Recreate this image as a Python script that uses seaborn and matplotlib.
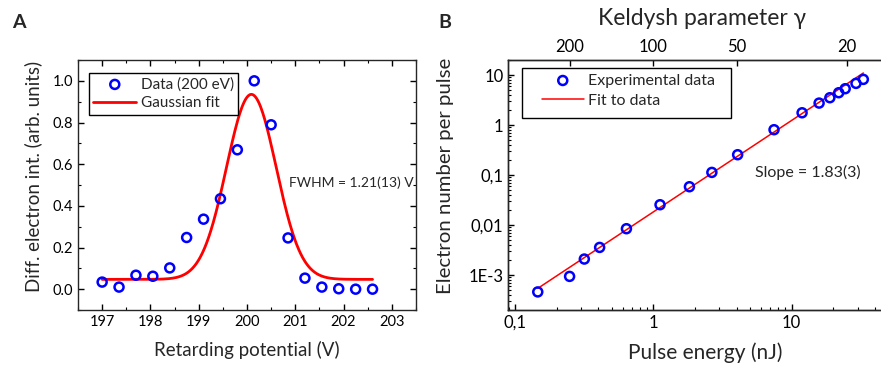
import numpy as np
import pandas as pd
import matplotlib.pyplot as plt
import matplotlib.patches as patches
import seaborn as sns
from matplotlib.ticker import FixedLocator, MultipleLocator, LogLocator, NullFormatter, FuncFormatter

# Panel A: retarding-potential scan
potential = [197.0, 197.35, 197.7, 198.05, 198.4, 198.75, 199.1, 199.45, 199.8,
             200.15, 200.5, 200.85, 201.2, 201.55, 201.9, 202.25, 202.6]
intensity = [0.034, 0.010, 0.067, 0.062, 0.102, 0.248, 0.336, 0.434, 0.669,
             1.0, 0.789, 0.246, 0.053, 0.010, 0.002, 0.0, 0.0]
fit_center = 200.09
fit_fwhm = 1.21
fit_amp = 0.888
fit_base = 0.047

# Panel B: yield vs pulse energy
pulse_energy = [0.146, 0.248, 0.317, 0.409, 0.639, 1.118, 1.824, 2.65, 4.07,
                7.46, 11.9, 15.8, 18.9, 21.9, 24.4, 29.2, 33.0]
electron_number = [4.6e-4, 9.4e-4, 2.09e-3, 3.57e-3, 8.45e-3, 0.0255, 0.0584, 0.113,
                   0.255, 0.807, 1.76, 2.75, 3.52, 4.43, 5.33, 6.81, 8.19]
fit_slope = 1.83
fit_prefactor = 0.0183
gamma_ticks = [200, 100, 50, 20]

sns.set_style('ticks')
plt.rcParams['font.family'] = ['Lato', 'DejaVu Sans']
plt.rcParams['axes.linewidth'] = 1.0
for ax_name in ['xtick', 'ytick']:
    plt.rcParams[ax_name + '.direction'] = 'in'
    plt.rcParams[ax_name + '.major.size'] = 4.5
    plt.rcParams[ax_name + '.minor.size'] = 2.5
    plt.rcParams[ax_name + '.major.width'] = 1.0
    plt.rcParams[ax_name + '.minor.width'] = 0.8
    plt.rcParams[ax_name + '.color'] = 'black'

blue = '#0000ff'
red = '#ff0000'

fig = plt.figure(figsize=(8.81, 3.65), dpi=100)
W, H = 881, 365
axA = fig.add_axes([78 / W, 55 / H, 338 / W, 250 / H])
axB = fig.add_axes([508.3 / W, 55 / H, 380 / W, 250 / H])

# ---- Panel A ----
sigma = fit_fwhm / (2 * np.sqrt(2 * np.log(2)))
xfit = np.linspace(potential[0], potential[-1], 400)
fit_df = pd.DataFrame({'x': xfit,
                       'y': fit_base + fit_amp * np.exp(-(xfit - fit_center) ** 2 / (2 * sigma ** 2))})
data_a = pd.DataFrame({'x': potential, 'y': intensity})

sns.scatterplot(data=data_a, x='x', y='y', ax=axA, marker='o', s=42, facecolor='none',
                edgecolor=blue, linewidth=1.8, label='Data (200 eV)', zorder=3)
sns.lineplot(data=fit_df, x='x', y='y', ax=axA, color=red, linewidth=2.0, label='Gaussian fit')

axA.set_xlim(196.5, 203.5)
axA.set_ylim(-0.1, 1.1)
axA.xaxis.set_major_locator(MultipleLocator(1))
axA.xaxis.set_minor_locator(MultipleLocator(0.5))
axA.yaxis.set_major_locator(MultipleLocator(0.2))
axA.yaxis.set_minor_locator(MultipleLocator(0.1))
axA.yaxis.set_major_formatter(FuncFormatter(lambda v, p: f'{v:.1f}'))
axA.tick_params(which='both', top=True, right=True, labeltop=False, labelright=False)
axA.tick_params(labelsize=10.5)
axA.set_xlabel('Retarding potential (V)', fontsize=13.5, va='center')
axA.set_ylabel('Diff. electron int. (arb. units)', fontsize=13.5, va='center')
axA.xaxis.set_label_coords(0.5, -0.16)
axA.yaxis.set_label_coords(-0.133, 0.536)
axA.text(200.86, 0.512, 'FWHM = 1.21(13) V', fontsize=10, va='center', ha='left')
legA = axA.legend(loc='upper left', bbox_to_anchor=(0.032, 0.95), fontsize=11,
                  frameon=True, fancybox=False, framealpha=1, edgecolor='black',
                  handlelength=2.8, handletextpad=0.3, borderpad=0.3, labelspacing=0.3,
                  scatterpoints=1, borderaxespad=0)
legA.get_frame().set_linewidth(1.0)

# ---- Panel B ----
efit = np.array([pulse_energy[0], pulse_energy[-1]])
fitb_df = pd.DataFrame({'x': efit, 'y': fit_prefactor * efit ** fit_slope})
data_b = pd.DataFrame({'x': pulse_energy, 'y': electron_number})

axB.set_xscale('log')
axB.set_yscale('log')
sns.scatterplot(data=data_b, x='x', y='y', ax=axB, marker='o', s=42, facecolor='none',
                edgecolor=blue, linewidth=1.8, label='Experimental data', zorder=3)
sns.lineplot(data=fitb_df, x='x', y='y', ax=axB, color=red, linewidth=1.1, label='Fit to data')

axB.set_xlim(0.0894, 50)
axB.set_ylim(2e-4, 20)
axB.xaxis.set_major_locator(FixedLocator([0.1, 1, 10]))
axB.xaxis.set_minor_locator(LogLocator(base=10, subs=np.arange(2, 10), numticks=20))
axB.xaxis.set_minor_formatter(NullFormatter())
axB.xaxis.set_major_formatter(FuncFormatter(lambda v, p: {0.1: '0,1', 1: '1', 10: '10'}.get(round(v, 3), '')))
axB.yaxis.set_major_locator(FixedLocator([1e-3, 1e-2, 0.1, 1, 10]))
axB.yaxis.set_minor_locator(LogLocator(base=10, subs=np.arange(2, 10), numticks=20))
axB.yaxis.set_minor_formatter(NullFormatter())
ylabels = {1e-3: '1E-3', 1e-2: '0,01', 0.1: '0,1', 1: '1', 10: '10'}
axB.yaxis.set_major_formatter(FuncFormatter(lambda v, p: ylabels.get(min(ylabels, key=lambda k: abs(np.log10(k) - np.log10(v))), '')))
axB.tick_params(which='both', top=False, right=False)
axB.tick_params(labelsize=12)
axB.set_xlabel('Pulse energy (nJ)', fontsize=15, va='center')
axB.set_ylabel('Electron number per pulse', fontsize=14.7, va='center')
axB.xaxis.set_label_coords(0.519, -0.172)
axB.yaxis.set_label_coords(-0.164, 0.536)
axB.text(5.45, 0.111, 'Slope = 1.83(3)', fontsize=11.5, va='center', ha='left')

# legend B: wide frame with more side padding than top/bottom
frameB = patches.Rectangle((521.7 / W, 1 - 117.7 / H), 209 / W, 49.4 / H,
                           transform=fig.transFigure, facecolor='white', edgecolor='black',
                           linewidth=1.0, zorder=4)
axB.add_patch(frameB)
legB = axB.legend(loc='upper left', bbox_to_anchor=(542 / W, 1 - 73.5 / H),
                  bbox_transform=fig.transFigure, fontsize=11.5, frameon=False,
                  handlelength=2.6, handletextpad=0.25, borderpad=0, labelspacing=0.38,
                  scatterpoints=1, borderaxespad=0)
legB.set_zorder(5)

# top axis: Keldysh parameter gamma = 100 / sqrt(E)
axT = axB.twiny()
axT.set_xscale('log')
axT.set_xlim(axB.get_xlim())
axT.xaxis.set_major_locator(FixedLocator([(100 / g) ** 2 for g in gamma_ticks]))
axT.xaxis.set_minor_locator(FixedLocator([]))
axT.set_xticklabels([str(g) for g in gamma_ticks])
axT.tick_params(axis='x', which='major', direction='in', length=4.5, labelsize=12)
axT.set_xlabel('Keldysh parameter γ', fontsize=16.5, va='center')
axT.xaxis.set_label_coords(0.51, 1.167)

fig.text(12 / W, 1 - 22 / H, 'A', fontsize=14, fontweight='bold', va='center', ha='left')
fig.text(438 / W, 1 - 22 / H, 'B', fontsize=14, fontweight='bold', va='center', ha='left')

fig.savefig('out.png', dpi=100)
